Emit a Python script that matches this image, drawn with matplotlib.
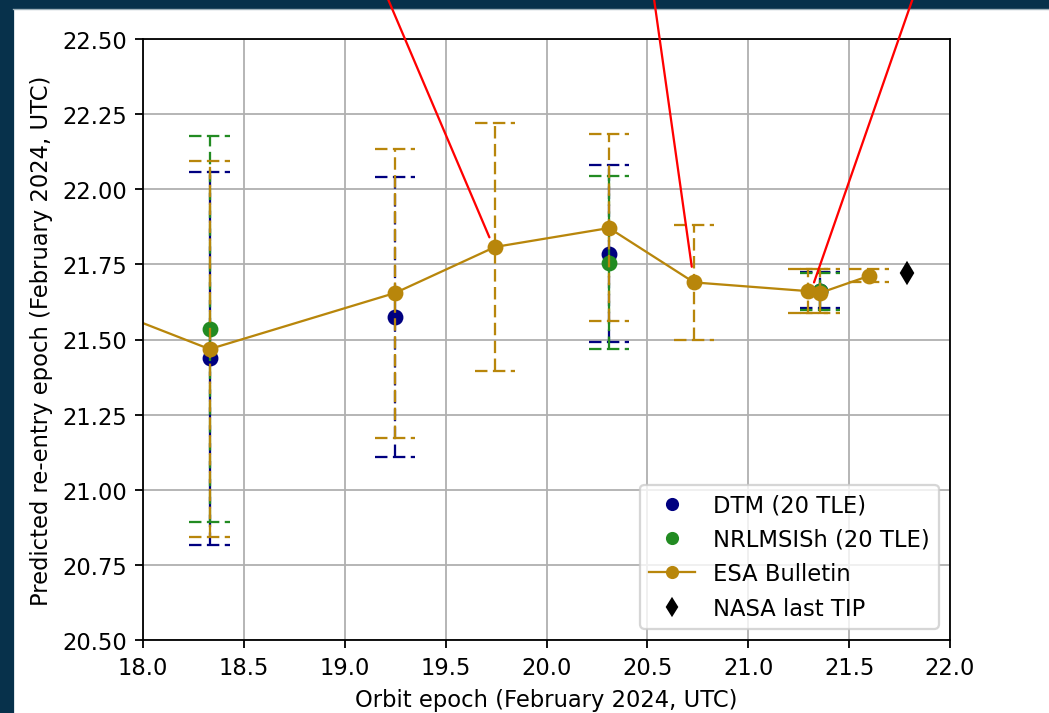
import numpy as np
import matplotlib
matplotlib.use('Agg')
import matplotlib.pyplot as plt
from matplotlib.patches import Rectangle
from matplotlib.lines import Line2D

# DTM (20 TLE)
dtm_x = [18.33, 19.25, 20.31, 21.356]
dtm_y = [21.44, 21.575, 21.786, 21.66]
dtm_lo = [20.816, 21.109, 21.491, 21.605]
dtm_hi = [22.058, 22.04, 22.08, 21.725]

# NRLMSISh (20 TLE)
nrl_x = [18.33, 20.31, 21.356]
nrl_y = [21.535, 21.754, 21.662]
nrl_lo = [20.893, 21.468, 21.598]
nrl_hi = [22.177, 22.043, 21.72]

# ESA Bulletin
esa_x = [17.75, 18.33, 19.25, 19.745, 20.31, 20.731, 21.296, 21.356, 21.6]
esa_y = [21.62, 21.468, 21.655, 21.808, 21.871, 21.69, 21.661, 21.655, 21.712]
esa_lo = [np.nan, 20.843, 21.173, 21.395, 21.56, 21.497, 21.588, 21.588, 21.69]
esa_hi = [np.nan, 22.095, 22.135, 22.22, 22.184, 21.881, 21.734, 21.734, 21.734]

# NASA last TIP
tip_x = [21.788]
tip_y = [21.72]

# red annotation lines (from labels above the plot)
ann_xy = [(19.717, 21.84), (20.72, 21.742), (21.326, 21.69)]
ann_from = [(19.045, 22.9), (20.477, 22.9), (21.953, 22.9)]

cap = 0.1
dash = [(0, (5.5, 2.4))]

fig, ax = plt.subplots(figsize=(1049 / 163, 714 / 163), dpi=163)
fig.subplots_adjust(left=143 / 1049, right=950 / 1049, bottom=73 / 714, top=674 / 714)

navy_bg = '#07314b'
fig.add_artist(Rectangle((0, 1 - 9 / 714), 1, 9 / 714, transform=fig.transFigure,
                         color=navy_bg, zorder=-2))
fig.add_artist(Rectangle((0, 0), 12.7 / 1049, 1, transform=fig.transFigure,
                         color=navy_bg, zorder=-2))
fig.add_artist(Line2D([12.7 / 1049, 1], [1 - 9.7 / 714] * 2, transform=fig.transFigure,
                      color='#9fb1ba', lw=0.6, zorder=-1))


def bars(x, lo, hi, color):
    x = np.array(x)
    ax.vlines(x, lo, hi, colors=color, linestyles=dash, lw=1)
    ax.hlines(lo, x - cap, x + cap, colors=color, linestyles=dash, lw=1)
    ax.hlines(hi, x - cap, x + cap, colors=color, linestyles=dash, lw=1)


bars(dtm_x, dtm_lo, dtm_hi, 'navy')
ax.plot(dtm_x, dtm_y, 'o', color='navy', label='DTM (20 TLE)')
bars(nrl_x, nrl_lo, nrl_hi, 'forestgreen')
ax.plot(nrl_x, nrl_y, 'o', color='forestgreen', label='NRLMSISh (20 TLE)')
bars(esa_x, esa_lo, esa_hi, 'darkgoldenrod')
ax.plot(esa_x, esa_y, 'o-', color='darkgoldenrod', lw=1, label='ESA Bulletin')
ax.plot(tip_x, tip_y, 'd', color='black', label='NASA last TIP')

for xy, xyt in zip(ann_xy, ann_from):
    ax.annotate('', xy=xy, xytext=xyt, annotation_clip=False,
                arrowprops=dict(arrowstyle='-', color='red', lw=1, shrinkA=0, shrinkB=0))

ax.set_xlim(18.0, 22.0)
ax.set_ylim(20.5, 22.5)
ax.set_xticks(np.arange(18.0, 22.01, 0.5))
ax.set_yticks(np.arange(20.5, 22.51, 0.25))
ax.yaxis.set_major_formatter(matplotlib.ticker.FormatStrFormatter('%.2f'))
ax.grid(True)
ax.set_xlabel('Orbit epoch (February 2024, UTC)')
ax.set_ylabel('Predicted re-entry epoch (February 2024, UTC)')
ax.legend(loc='lower right', markerscale=0.8)

fig.savefig('out.png', dpi=163)
